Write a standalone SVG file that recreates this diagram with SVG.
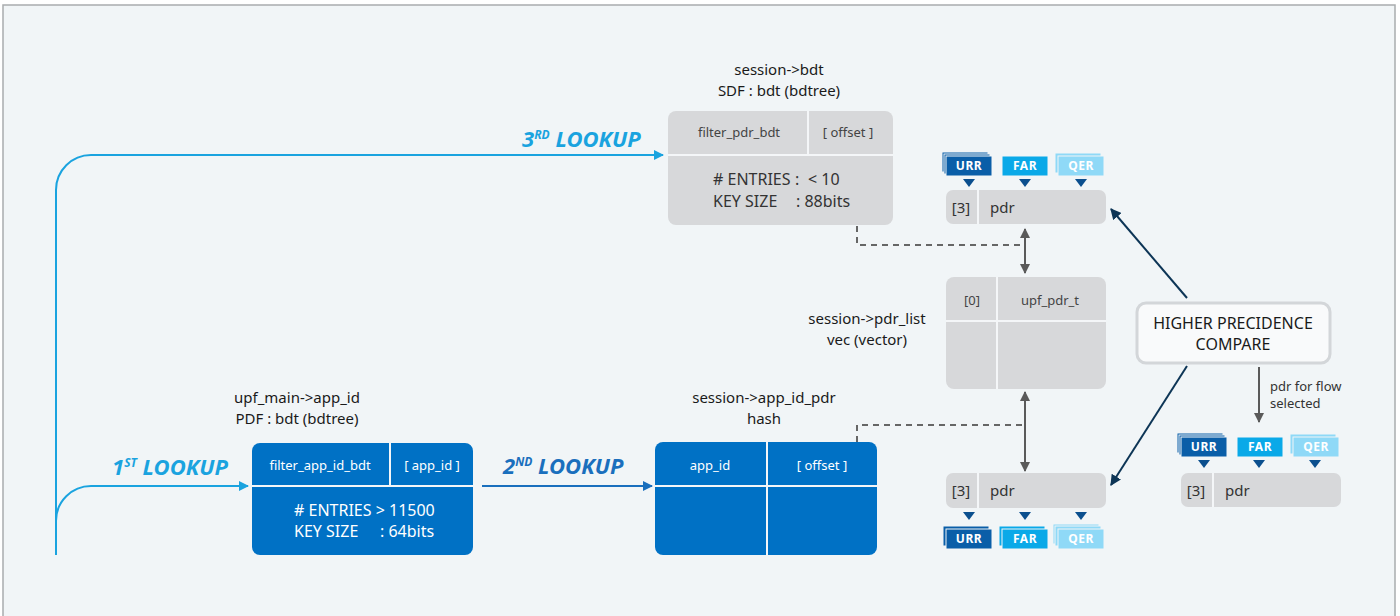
<svg xmlns="http://www.w3.org/2000/svg" width="1400" height="616" viewBox="0 0 1400 616">
<defs>
<style>
text{font-family:"Noto Sans","Open Sans",sans-serif}
.bg{fill:#f1f5f7;stroke:#a9acae;stroke-width:1.5}
.gbox{fill:#d7d8da}
.bbox{fill:#0071c5}
.div{stroke:#f4f6f8;stroke-width:2}
.ttl{font-size:15px;fill:#1a1a1a;text-anchor:middle}
.hd{font-size:13px;fill:#444;text-anchor:middle}
.hdw{font-size:13px;fill:#fff;text-anchor:middle}
.ent{font-size:16px;fill:#333}
.entw{font-size:16px;fill:#fff}
.look{font-size:22px;font-weight:bold;font-style:italic}
.c1{fill:#1aa3df}
.c2{fill:#1a6fbd}
.urr{fill:#0a5ea8;stroke:#f1f5f7;stroke-width:1}
.far{fill:#0aa9e8;stroke:#f1f5f7;stroke-width:1}
.qer{fill:#8fd9f7;stroke:#f1f5f7;stroke-width:1}
.tag{font-size:12px;font-weight:bold;fill:#fff;text-anchor:middle;letter-spacing:0.5px}
.tri{fill:#0b4f8e}
.pdr{font-size:15px;fill:#333}
.dash{fill:none;stroke:#666;stroke-width:2;stroke-dasharray:6 5}
.dbl{stroke:#5a5a5a;stroke-width:2;fill:none}
</style>
<marker id="mc" viewBox="0 0 10 10" refX="9" refY="5" markerWidth="5" markerHeight="5" orient="auto"><path d="M0 0L10 5L0 10z" fill="#1aa3df"/></marker>
<marker id="mb" viewBox="0 0 10 10" refX="9" refY="5" markerWidth="5" markerHeight="5" orient="auto"><path d="M0 0L10 5L0 10z" fill="#1a6fbd"/></marker>
<marker id="mg" viewBox="0 0 10 10" refX="9" refY="5" markerWidth="5" markerHeight="5" orient="auto-start-reverse"><path d="M0 0L10 5L0 10z" fill="#5a5a5a"/></marker>
<marker id="mn" viewBox="0 0 10 10" refX="9" refY="5" markerWidth="5.5" markerHeight="5.5" orient="auto"><path d="M0 0L10 5L0 10z" fill="#0d3556"/></marker>
</defs>

<rect class="bg" x="3" y="5" width="1392" height="640"/>

<g id="connectors">
<path d="M56 555V190A35 35 0 0 1 91 155H663" fill="none" stroke="#1aa3df" stroke-width="2" marker-end="url(#mc)"/>
<path d="M56 555V521A35 35 0 0 1 91 486H248" fill="none" stroke="#1aa3df" stroke-width="2" marker-end="url(#mc)"/>
<path d="M482 486H652" fill="none" stroke="#1a6fbd" stroke-width="2" marker-end="url(#mb)"/>
<path class="dash" d="M857 226V245H1024"/>
<path class="dash" d="M857 442V425H1022"/>
<path class="dbl" d="M1025 229V273" marker-start="url(#mg)" marker-end="url(#mg)"/>
<path class="dbl" d="M1025 392V471" marker-start="url(#mg)" marker-end="url(#mg)"/>
<path d="M1187 298L1111 209" stroke="#0d3556" stroke-width="2" fill="none" marker-end="url(#mn)"/>
<path d="M1187 366L1111 485" stroke="#0d3556" stroke-width="2" fill="none" marker-end="url(#mn)"/>
<path class="dbl" d="M1259 367V422" marker-end="url(#mg)"/>
</g>

<g id="lookup-labels">
<text class="look c1" x="522" y="147">3<tspan font-size="12" dy="-8">RD</tspan><tspan dy="8"> LOOKUP</tspan></text>
<text class="look c1" x="112" y="475">1<tspan font-size="12" dy="-8">ST</tspan><tspan dy="8"> LOOKUP</tspan></text>
<text class="look c2" x="503" y="474">2<tspan font-size="12" dy="-8">ND</tspan><tspan dy="8"> LOOKUP</tspan></text>
</g>

<g id="bdt-sdf">
<text class="ttl" x="779" y="75">session-&gt;bdt</text>
<text class="ttl" x="779" y="96">SDF : bdt (bdtree)</text>
<rect class="gbox" x="668" y="111" width="225" height="114" rx="8"/>
<line class="div" x1="668" y1="155" x2="893" y2="155"/>
<line class="div" x1="808" y1="111" x2="808" y2="155"/>
<text class="hd" x="739" y="137">filter_pdr_bdt</text>
<text class="hd" x="848" y="137">[ offset ]</text>
<text class="ent" x="713" y="185"># ENTRIES<tspan x="795">:</tspan><tspan x="808">&lt; 10</tspan></text>
<text class="ent" x="713" y="207">KEY SIZE<tspan x="796">: 88bits</tspan></text>
</g>

<g id="app-id-bdt">
<text class="ttl" x="297" y="403" text-anchor="start">upf_main-&gt;app_id</text>
<text class="ttl" x="297" y="424" text-anchor="start">PDF : bdt (bdtree)</text>
<rect class="bbox" x="252" y="443" width="221" height="112" rx="8"/>
<line class="div" x1="252" y1="486" x2="473" y2="486"/>
<line class="div" x1="390" y1="443" x2="390" y2="486"/>
<text class="hdw" x="320" y="470">filter_app_id_bdt</text>
<text class="hdw" x="432" y="470">[ app_id ]</text>
<text class="entw" x="294" y="516"># ENTRIES &gt; 11500</text>
<text class="entw" x="294" y="537">KEY SIZE<tspan x="380">: 64bits</tspan></text>
</g>

<g id="app-id-pdr-hash">
<text class="ttl" x="764" y="403">session-&gt;app_id_pdr</text>
<text class="ttl" x="764" y="424">hash</text>
<rect class="bbox" x="655" y="442" width="222" height="113" rx="8"/>
<line class="div" x1="655" y1="486" x2="877" y2="486"/>
<line class="div" x1="767" y1="442" x2="767" y2="555"/>
<text class="hdw" x="710" y="470">app_id</text>
<text class="hdw" x="822" y="470">[ offset ]</text>
</g>

<g id="pdr-list">
<text class="ttl" x="867" y="324">session-&gt;pdr_list</text>
<text class="ttl" x="867" y="345">vec (vector)</text>
<rect class="gbox" x="946" y="277" width="160" height="112" rx="8"/>
<line class="div" x1="946" y1="321" x2="1106" y2="321"/>
<line class="div" x1="997" y1="277" x2="997" y2="389"/>
<text class="hd" x="972" y="305">[0]</text>
<text class="hd" x="1050" y="305">upf_pdr_t</text>
</g>

<g id="pdr-top">
<rect class="urr" x="942" y="152" width="46" height="20"/>
<rect class="urr" x="944" y="154" width="46" height="20"/>
<rect class="urr" x="946" y="156" width="46" height="20"/>
<text class="tag" x="969" y="170">URR</text>
<rect class="far" x="1002" y="156" width="46" height="20"/>
<text class="tag" x="1025" y="170">FAR</text>
<rect class="qer" x="1055" y="153" width="46" height="20"/>
<rect class="qer" x="1058" y="156" width="46" height="20"/>
<text class="tag" x="1081" y="170">QER</text>
<path class="tri" d="M963 179H975L969 187Z M1019 179H1031L1025 187Z M1075 179H1087L1081 187Z"/>
<rect class="gbox" x="946" y="190" width="160" height="34" rx="7"/>
<line class="div" x1="978" y1="190" x2="978" y2="224"/>
<text class="pdr" x="961" y="213" text-anchor="middle">[3]</text>
<text class="pdr" x="990" y="213">pdr</text>
</g>

<g id="pdr-bottom">
<rect class="gbox" x="946" y="473" width="160" height="35" rx="7"/>
<line class="div" x1="978" y1="473" x2="978" y2="508"/>
<text class="pdr" x="961" y="496" text-anchor="middle">[3]</text>
<text class="pdr" x="990" y="496">pdr</text>
<path class="tri" d="M963 512H975L969 520Z M1019 512H1031L1025 520Z M1075 512H1087L1081 520Z"/>
<rect class="urr" x="943" y="526" width="46" height="20"/>
<rect class="urr" x="946" y="529" width="46" height="20"/>
<text class="tag" x="969" y="543">URR</text>
<rect class="far" x="999" y="526" width="46" height="20"/>
<rect class="far" x="1002" y="529" width="46" height="20"/>
<text class="tag" x="1025" y="543">FAR</text>
<rect class="qer" x="1053" y="524" width="46" height="20"/>
<rect class="qer" x="1055" y="526" width="46" height="20"/>
<rect class="qer" x="1058" y="529" width="46" height="20"/>
<text class="tag" x="1081" y="543">QER</text>
</g>

<g id="compare">
<rect x="1137" y="303" width="193" height="60" rx="9" fill="#f9fafb" stroke="#d3d6d9" stroke-width="3"/>
<text x="1233" y="329" font-size="16" fill="#1a1a1a" text-anchor="middle">HIGHER PRECIDENCE</text>
<text x="1233" y="350" font-size="16" fill="#1a1a1a" text-anchor="middle">COMPARE</text>
<text x="1270" y="391" font-size="13" fill="#333">pdr for flow</text>
<text x="1270" y="408" font-size="13" fill="#333">selected</text>
</g>

<g id="pdr-selected">
<rect class="urr" x="1177" y="433" width="46" height="20"/>
<rect class="urr" x="1179" y="435" width="46" height="20"/>
<rect class="urr" x="1181" y="437" width="46" height="20"/>
<text class="tag" x="1204" y="451">URR</text>
<rect class="far" x="1237" y="437" width="46" height="20"/>
<text class="tag" x="1260" y="451">FAR</text>
<rect class="qer" x="1290" y="434" width="46" height="20"/>
<rect class="qer" x="1293" y="437" width="46" height="20"/>
<text class="tag" x="1316" y="451">QER</text>
<path class="tri" d="M1198 460H1210L1204 468Z M1253 460H1265L1259 468Z M1309 460H1321L1315 468Z"/>
<rect class="gbox" x="1181" y="473" width="160" height="34" rx="7"/>
<line class="div" x1="1213" y1="473" x2="1213" y2="507"/>
<text class="pdr" x="1196" y="496" text-anchor="middle">[3]</text>
<text class="pdr" x="1225" y="496">pdr</text>
</g>
</svg>
